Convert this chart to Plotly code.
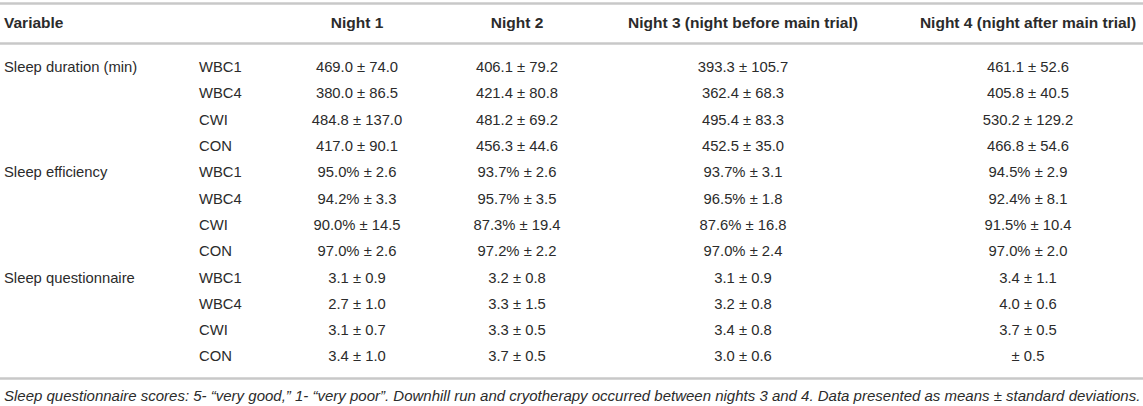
import plotly.graph_objects as go

# table content
header = ["Variable", "", "Night 1", "Night 2",
          "Night 3 (night before main trial)", "Night 4 (night after main trial)"]
variables = ["Sleep duration (min)", "Sleep efficiency", "Sleep questionnaire"]
groups = ["WBC1", "WBC4", "CWI", "CON"]

# means and standard deviations, 12 rows (3 variables x 4 groups)
night1_mean = [469.0, 380.0, 484.8, 417.0, 95.0, 94.2, 90.0, 97.0, 3.1, 2.7, 3.1, 3.4]
night1_sd = [74.0, 86.5, 137.0, 90.1, 2.6, 3.3, 14.5, 2.6, 0.9, 1.0, 0.7, 1.0]
night2_mean = [406.1, 421.4, 481.2, 456.3, 93.7, 95.7, 87.3, 97.2, 3.2, 3.3, 3.3, 3.7]
night2_sd = [79.2, 80.8, 69.2, 44.6, 2.6, 3.5, 19.4, 2.2, 0.8, 1.5, 0.5, 0.5]
night3_mean = [393.3, 362.4, 495.4, 452.5, 93.7, 96.5, 87.6, 97.0, 3.1, 3.2, 3.4, 3.0]
night3_sd = [105.7, 68.3, 83.3, 35.0, 3.1, 1.8, 16.8, 2.4, 0.9, 0.8, 0.8, 0.6]
night4_mean = [461.1, 405.8, 530.2, 466.8, 94.5, 92.4, 91.5, 97.0, 3.4, 4.0, 3.7, None]
night4_sd = [52.6, 40.5, 129.2, 54.6, 2.9, 8.1, 10.4, 2.0, 1.1, 0.6, 0.5, 0.5]
percent_rows = [4, 5, 6, 7]

caption = ("Sleep questionnaire scores: 5- \u201cvery good,\u201d 1- \u201cvery poor\u201d. "
           "Downhill run and cryotherapy occurred between nights 3 and 4. "
           "Data presented as means \u00b1 standard deviations.")


def fmt(means, sds):
    out = []
    for i, (m, s) in enumerate(zip(means, sds)):
        pct = "%" if i in percent_rows else ""
        if m is None:
            out.append("\u00b1 %.1f" % s)
        else:
            out.append("%.1f%s \u00b1 %.1f" % (m, pct, s))
    return out


nights = [fmt(night1_mean, night1_sd), fmt(night2_mean, night2_sd),
          fmt(night3_mean, night3_sd), fmt(night4_mean, night4_sd)]

W, H = 1143, 406
FONT = "Liberation Sans, Arial, Helvetica, sans-serif"
TXT = "#2b2b2b"
n_rows = len(night1_mean)
row_y = [68.5 + 26.3 * i for i in range(n_rows)]
header_y = 24
col_x = [4, 199, 357, 517, 743, 1028]
BODY = 14.8
HEAD = 15.5

fig = go.Figure()

# header
fig.add_trace(go.Scatter(x=col_x[:1], y=[header_y], mode="text",
                         text=["<b>%s</b>" % header[0]], textposition="middle right",
                         textfont=dict(size=HEAD)))
fig.add_trace(go.Scatter(x=col_x[2:], y=[header_y] * 4, mode="text",
                         text=["<b>%s</b>" % h for h in header[2:]],
                         textposition="middle center", textfont=dict(size=HEAD)))

# variable names (first row of each block)
fig.add_trace(go.Scatter(x=[col_x[0]] * 3, y=[row_y[4 * k] for k in range(3)],
                         mode="text", text=variables, textposition="middle right",
                         textfont=dict(size=BODY)))
# group names
fig.add_trace(go.Scatter(x=[col_x[1]] * n_rows, y=row_y, mode="text",
                         text=groups * 3, textposition="middle right",
                         textfont=dict(size=BODY)))
# night columns
for j, vals in enumerate(nights):
    fig.add_trace(go.Scatter(x=[col_x[2 + j]] * n_rows, y=row_y, mode="text",
                             text=vals, textposition="middle center",
                             textfont=dict(size=BODY)))

# caption
fig.add_trace(go.Scatter(x=[col_x[0]], y=[397], mode="text",
                         text=["<i>%s</i>" % caption], textposition="middle right",
                         textfont=dict(size=15)))

fig.update_traces(textfont_family=FONT, textfont_color=TXT, hoverinfo="skip",
                  showlegend=False, selector=dict(type="scatter"))

rule = "#c8c8c8"
for yy in [3.5, 43.5, 378.5]:
    fig.add_shape(type="line", x0=0, x1=W, y0=yy, y1=yy,
                  line=dict(color=rule, width=2.5), layer="below")

fig.update_layout(
    width=W, height=H,
    margin=dict(l=0, r=0, t=0, b=0),
    paper_bgcolor="white", plot_bgcolor="white",
    xaxis=dict(range=[0, W], visible=False, fixedrange=True),
    yaxis=dict(range=[H, 0], visible=False, fixedrange=True),
)

fig.write_html("out.html", config={"displayModeBar": False},
               post_script="document.body.style.margin='0';")
